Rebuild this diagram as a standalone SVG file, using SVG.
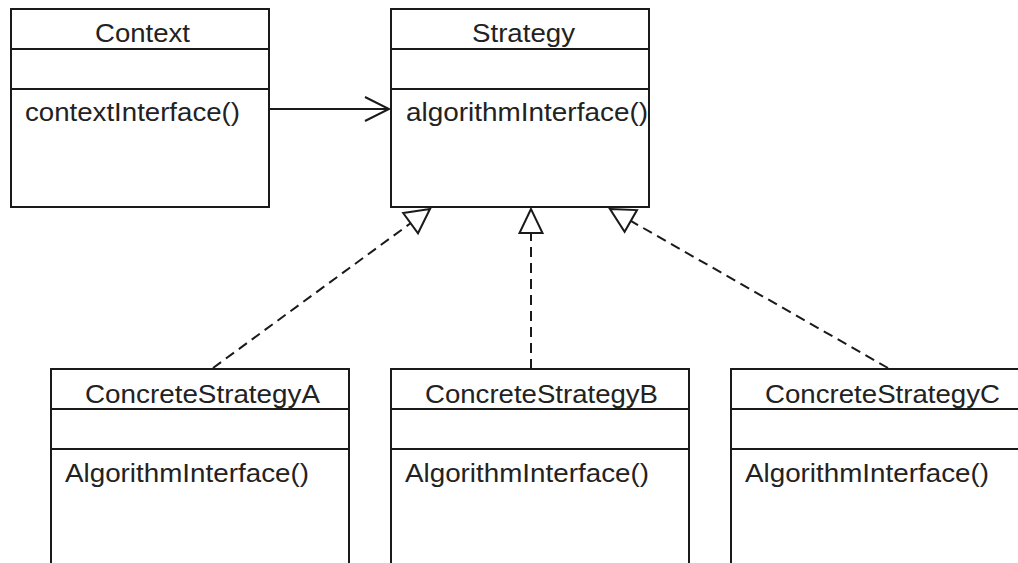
<svg xmlns="http://www.w3.org/2000/svg" width="1018" height="563" viewBox="0 0 1018 563">
  <style>
    .box { fill: #ffffff; stroke: #1a1a1a; stroke-width: 2; }
    .div { stroke: #1a1a1a; stroke-width: 2; }
    .t { font-family: "Liberation Sans", Arial, sans-serif; font-size: 26px; fill: #222222; }
    .dash { fill: none; stroke: #1a1a1a; stroke-width: 2; stroke-dasharray: 10 6; }
    .solid { fill: none; stroke: #1a1a1a; stroke-width: 2; }
    .head { fill: #ffffff; stroke: #1a1a1a; stroke-width: 2; stroke-linejoin: miter; }
  </style>
  <rect width="1018" height="563" fill="#ffffff"/>

  <g id="context">
    <rect class="box" x="11" y="9" width="258" height="198"/>
    <line class="div" x1="11" y1="49" x2="269" y2="49"/>
    <line class="div" x1="11" y1="89" x2="269" y2="89"/>
    <text class="t" x="95" y="42" textLength="95" lengthAdjust="spacingAndGlyphs">Context</text>
    <text class="t" x="25" y="121" textLength="215" lengthAdjust="spacingAndGlyphs">contextInterface()</text>
  </g>

  <g id="strategy">
    <rect class="box" x="391" y="9" width="258" height="198"/>
    <line class="div" x1="391" y1="49" x2="649" y2="49"/>
    <line class="div" x1="391" y1="89" x2="649" y2="89"/>
    <text class="t" x="472" y="42" textLength="103" lengthAdjust="spacingAndGlyphs">Strategy</text>
    <text class="t" x="406" y="121" textLength="242" lengthAdjust="spacingAndGlyphs">algorithmInterface()</text>
  </g>

  <g id="concreteA">
    <rect class="box" x="51" y="369" width="298" height="210"/>
    <line class="div" x1="51" y1="409" x2="349" y2="409"/>
    <line class="div" x1="51" y1="449" x2="349" y2="449"/>
    <text class="t" x="85" y="403" textLength="235" lengthAdjust="spacingAndGlyphs">ConcreteStrategyA</text>
    <text class="t" x="65" y="482" textLength="244" lengthAdjust="spacingAndGlyphs">AlgorithmInterface()</text>
  </g>

  <g id="concreteB">
    <rect class="box" x="391" y="369" width="298" height="210"/>
    <line class="div" x1="391" y1="409" x2="689" y2="409"/>
    <line class="div" x1="391" y1="449" x2="689" y2="449"/>
    <text class="t" x="425" y="403" textLength="233" lengthAdjust="spacingAndGlyphs">ConcreteStrategyB</text>
    <text class="t" x="405" y="482" textLength="244" lengthAdjust="spacingAndGlyphs">AlgorithmInterface()</text>
  </g>

  <g id="concreteC">
    <rect class="box" x="731" y="369" width="298" height="210"/>
    <line class="div" x1="731" y1="409" x2="1029" y2="409"/>
    <line class="div" x1="731" y1="449" x2="1029" y2="449"/>
    <text class="t" x="765" y="403" textLength="235" lengthAdjust="spacingAndGlyphs">ConcreteStrategyC</text>
    <text class="t" x="745" y="482" textLength="244" lengthAdjust="spacingAndGlyphs">AlgorithmInterface()</text>
  </g>

  <g id="connectors">
    <!-- association Context -> Strategy -->
    <line class="solid" x1="270" y1="109" x2="389" y2="109"/>
    <polyline class="solid" points="365,97 389,109 365,121"/>

    <!-- realization A -->
    <line class="dash" x1="213" y1="368" x2="410.6" y2="223.2"/>
    <polygon class="head" points="430,209 403.2,213.1 418,233.3"/>

    <!-- realization B -->
    <line class="dash" x1="531" y1="369" x2="531" y2="233"/>
    <polygon class="head" points="531,209 519.5,233 542.5,233"/>

    <!-- realization C -->
    <line class="dash" x1="888" y1="368" x2="630.8" y2="220.9"/>
    <polygon class="head" points="610,209 637,210.1 624.6,231.8"/>
  </g>
</svg>
